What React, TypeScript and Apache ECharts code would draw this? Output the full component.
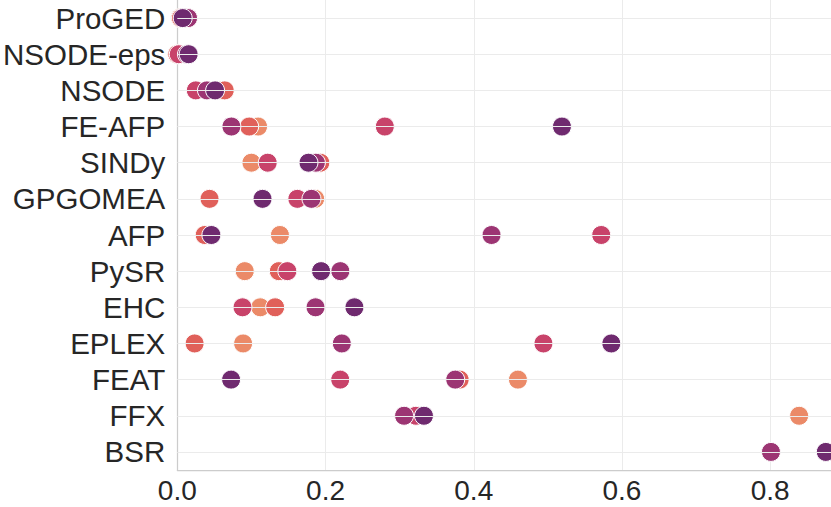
import React, { useEffect, useRef } from "react";
import * as echarts from "echarts";

const categories = ["ProGED", "NSODE-eps", "NSODE", "FE-AFP", "SINDy", "GPGOMEA", "AFP", "PySR", "EHC", "EPLEX", "FEAT", "FFX", "BSR"];

const level1 = [0.004, 0.0, 0.06, 0.109, 0.1, 0.186, 0.1385, 0.091, 0.112, 0.0888, 0.4596, 0.839, null];
const level2 = [0.005, 0.0, 0.064, 0.097, 0.193, 0.0435, 0.037, 0.137, 0.132, 0.0234, 0.381, 0.322, null];
const level3 = [0.01, 0.002, 0.025, 0.28, 0.122, 0.162, 0.572, 0.1485, 0.088, 0.494, 0.2198, 0.322, null];
const level4 = [0.0145, 0.013, 0.04, 0.073, 0.187, 0.181, 0.424, 0.22, 0.1865, 0.222, 0.375, 0.306, 0.801];
const level5 = [0.0073, 0.0153, 0.051, 0.519, 0.177, 0.115, 0.046, 0.194, 0.239, 0.5856, 0.0726, 0.3328, 0.875];

const levels = [level1, level2, level3, level4, level5];
const colors = ["#eb8a68", "#e0605a", "#c8436a", "#9c3573", "#6f2a6f"];

const xTicks = [0, 0.2, 0.4, 0.6, 0.8];

export default function App() {
  const ref = useRef<HTMLDivElement>(null);
  useEffect(() => {
    if (!ref.current) return;
    const chart = echarts.init(ref.current, undefined, { renderer: "svg" });
    const font = "Liberation Sans, Arial, Helvetica, sans-serif";
    const series: any[] = [
      {
        type: "scatter",
        data: [],
        z: 1,
        silent: true,
        markLine: {
          silent: true,
          symbol: ["none", "none"],
          label: { show: false },
          lineStyle: { color: "#ebebeb", width: 1, type: "solid" },
          data: categories.map((c) => ({ yAxis: c })),
        },
      },
    ];
    levels.forEach((lv, i) => {
      series.push({
        type: "scatter",
        z: 2,
        symbolSize: 19,
        itemStyle: { color: colors[i], borderColor: "#ffffff", borderWidth: 1, opacity: 1 },
        data: lv
          .map((v, j) => (v === null ? null : [v, categories[j]]))
          .filter((d) => d !== null),
      });
    });
    chart.setOption({
      animation: false,
      grid: { left: 175, right: 0, top: 0, bottom: 37, containLabel: false },
      xAxis: {
        type: "value",
        min: 0,
        max: 0.882,
        interval: 0.2,
        axisLine: { show: true, lineStyle: { color: "#cccccc", width: 1.25 } },
        axisTick: { show: false },
        splitLine: { show: true, lineStyle: { color: "#ebebeb", width: 1 } },
        axisLabel: {
          fontSize: 28,
          color: "#262626",
          fontFamily: font,
          margin: 6,
          showMaxLabel: false,
          formatter: (v: number) => {
            const t = xTicks.find((x) => Math.abs(x - v) < 1e-6);
            return t === undefined ? "" : t.toFixed(1);
          },
        },
      },
      yAxis: {
        type: "category",
        data: categories,
        inverse: true,
        axisLine: { show: true, lineStyle: { color: "#cccccc", width: 1.25 } },
        axisTick: { show: false },
        splitLine: { show: false },
        axisLabel: { interval: 0, fontSize: 29.5, color: "#262626", fontFamily: font, margin: 12 },
      },
      series,
    });
    return () => chart.dispose();
  }, []);
  return <div ref={ref} style={{ position: "absolute", left: 0, top: 0, width: 831, height: 507 }} />;
}
